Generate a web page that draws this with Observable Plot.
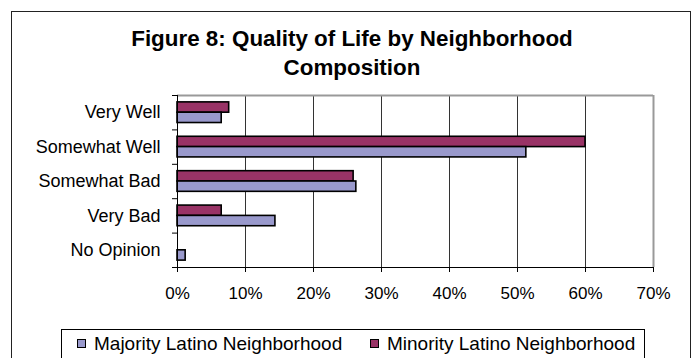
<!DOCTYPE html>
<html>
<head>
<meta charset="utf-8">
<script src="https://cdn.jsdelivr.net/npm/d3@7"></script>
<script src="https://cdn.jsdelivr.net/npm/@observablehq/plot@0.6"></script>
<style>
  html, body { margin: 0; padding: 0; background: #fff; }
  #wrap { position: relative; width: 698px; height: 358px; overflow: hidden; background: #fff;
          font-family: "Liberation Sans", Arial, sans-serif; }
  #border { position: absolute; left: 11px; top: 11px; width: 680px; height: 400px; border: 1px solid #222; box-sizing: border-box; }
  #title { position: absolute; left: 12px; width: 680px; top: 24px; text-align: center;
           font-weight: bold; font-size: 22.4px; line-height: 29px; color: #000; }
  #chart { position: absolute; left: 0; top: 0; }
  #legend { position: absolute; left: 61px; top: 329px; width: 584px; height: 40px; border: 1px solid #000;
            box-sizing: border-box; font-size: 19px; color: #000; }
  .item { position: absolute; top: 3px; white-space: nowrap; line-height: 22px; }
  .sw { display: inline-block; width: 7px; height: 7px; border: 1px solid #000; margin-right: 8px; vertical-align: 2px; }
</style>
</head>
<body>
<div id="wrap">
  <div id="border"></div>
  <div id="title"></div>
  <div id="chart"></div>
  <div id="legend"></div>
</div>
<script>
const titleLines = ["Figure 8: Quality of Life by Neighborhood", "Composition"];
const categories = ["Very Well", "Somewhat Well", "Somewhat Bad", "Very Bad", "No Opinion"];
const seriesNames = ["Majority Latino Neighborhood", "Minority Latino Neighborhood"];
const majorityValues = [6.5, 51.3, 26.3, 14.4, 1.2];
const minorityValues = [7.6, 60.0, 25.9, 6.5, 0];
const seriesColors = ["#9999CC", "#993366"];
const xTicks = [0, 10, 20, 30, 40, 50, 60, 70];
const barThickness = 0.3; // fraction of a category band per bar

document.getElementById("title").innerHTML = titleLines.join("<br>");

const rows = [];
categories.forEach((cat, i) => {
  rows.push({cat, i, series: seriesNames[1], value: minorityValues[i], top: true});
  rows.push({cat, i, series: seriesNames[0], value: majorityValues[i], top: false});
});
const bars = rows.filter(d => d.value > 0);
const idx = categories.map((_, i) => i);
const bounds = d3.range(-0.5, categories.length, 1);

const chart = Plot.plot({
  width: 698,
  height: 358,
  marginLeft: 177,
  marginRight: 45,
  marginTop: 95,
  marginBottom: 91,
  style: {fontFamily: "'Liberation Sans', Arial, sans-serif", fontSize: "17px", background: "transparent", color: "#000"},
  x: {domain: [0, 70], axis: null, label: null},
  y: {domain: [-0.5, categories.length - 0.5], reverse: true, axis: null, label: null},
  color: {domain: seriesNames, range: seriesColors},
  marks: [
    Plot.ruleX(xTicks.filter(t => t > 0 && t < 70), {stroke: "#333", strokeWidth: 1}),
    Plot.ruleX([70], {stroke: "#999", strokeWidth: 2}),
    Plot.ruleY([-0.5], {stroke: "#999", strokeWidth: 2}),
    Plot.rect(bars, {
      x1: () => 0,
      x2: "value",
      y1: d => d.top ? d.i - barThickness : d.i,
      y2: d => d.top ? d.i : d.i + barThickness,
      fill: "series",
      stroke: "#000",
      strokeWidth: 1.6
    }),
    Plot.ruleX([0], {stroke: "#000", strokeWidth: 1}),
    Plot.ruleY([categories.length - 0.5], {stroke: "#000", strokeWidth: 1}),
    Plot.axisY({ticks: bounds, tickSize: 5, tickFormat: () => "", stroke: "#000", label: null}),
    Plot.axisY({ticks: idx, tickSize: 0, tickPadding: 17, tickFormat: i => categories[i], fontSize: 18, label: null, style: {letterSpacing: "0.3px"}}),
    Plot.axisX({ticks: xTicks, tickSize: 5, tickPadding: 14, tickFormat: d => d + "%", fontSize: 17, stroke: "#000", label: null})
  ]
});
document.getElementById("chart").appendChild(chart);

const legend = document.getElementById("legend");
const legendX = [15, 308];
seriesNames.forEach((name, k) => {
  const it = document.createElement("div");
  it.className = "item";
  it.style.left = legendX[k] + "px";
  it.innerHTML = `<span class="sw" style="background:${seriesColors[k]}"></span>${name}`;
  legend.appendChild(it);
});
</script>
</body>
</html>
